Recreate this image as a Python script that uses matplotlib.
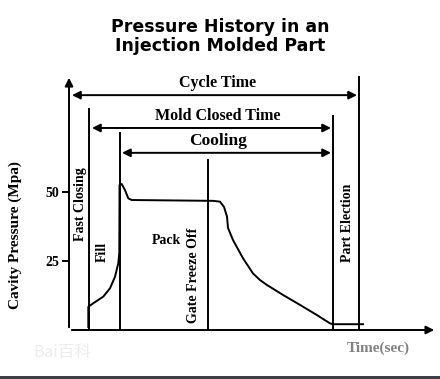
import matplotlib
matplotlib.use("Agg")
import matplotlib.pyplot as plt
from matplotlib.patches import Rectangle

# pressure trace (time in arbitrary sec units, pressure in MPa)
time = [1.93, 1.93, 2.43, 3.43, 4.1, 4.6, 4.93, 5.03, 5.05, 5.05, 5.27, 5.6, 5.93, 6.27,
        14.4, 15.1, 15.5, 15.8, 15.9, 16.4, 17.4, 18.4, 19.1, 19.8, 21.4, 23.1, 24.8,
        26.1, 26.4, 29.4]
pressure = [1.1, 8.4, 9.7, 12.1, 15.1, 19.3, 24.2, 27.9, 47.1, 52.5, 52.9, 50.7, 47.7, 47.1,
            46.8, 46.5, 44.6, 41.1, 37.0, 32.6, 26.0, 20.5, 18.1, 16.3, 12.7, 9.1, 5.4,
            2.4, 2.1, 2.1]

y_ticks = [25, 50]

# phase boundaries: (time, top of line)
phase_lines = [(2.0, 80.0), (5.1, 71.4), (13.9, 61.6), (26.4, 77.5), (29.0, 91.7)]

# dimension arrows: (label, start, end, height, fontsize)
spans = [("Cycle Time", 0.3, 28.8, 85.1, 11.5),
         ("Mold Closed Time", 2.3, 26.2, 73.2, 11.5),
         ("Cooling", 5.3, 26.2, 64.2, 12.5)]

# rotated phase labels: (label, time, pressure, rotation)
phase_labels = [("Fast Closing", 1.1, 45.7, 90), ("Fill", 3.3, 28.3, 90),
                ("Pack", 9.7, 32.6, 0), ("Gate Freeze Off", 12.4, 19.9, 90),
                ("Part Election", 27.8, 38.8, 90)]

serif = "Liberation Serif"
lw = 1.4

fig = plt.figure(figsize=(4.4, 3.79), dpi=100)
ax = fig.add_axes([69 / 440, 49 / 379, 368 / 440, 255 / 379])
ax.set_xlim(0, 36.8)
ax.set_ylim(0, 92.4)
for s in ax.spines.values():
    s.set_visible(False)

# axes drawn as arrows
ax.annotate("", xy=(0, 92.4), xytext=(0, 0),
            arrowprops=dict(arrowstyle="-|>", lw=lw, color="black", mutation_scale=12),
            annotation_clip=False)
ax.annotate("", xy=(36.8, 0), xytext=(0, 0),
            arrowprops=dict(arrowstyle="-|>", lw=lw, color="black", mutation_scale=12),
            annotation_clip=False)

ax.set_xticks([])
ax.set_yticks(y_ticks)
ax.set_yticklabels([str(v) for v in y_ticks], fontfamily=serif, fontweight="bold", fontsize=10)
ax.tick_params(axis="y", length=5, width=lw, pad=2)

for t, top in phase_lines:
    ax.plot([t, t], [0, top], color="black", lw=lw, clip_on=False)

for label, x0, x1, h, fs in spans:
    ax.annotate("", xy=(x1, h), xytext=(x0, h),
                arrowprops=dict(arrowstyle="<|-|>", lw=lw, color="black",
                                mutation_scale=12, shrinkA=0, shrinkB=0),
                annotation_clip=False)
    ax.text(14.9, h + 1.5, label, ha="center", va="bottom",
            fontfamily=serif, fontweight="bold", fontsize=fs)

for label, x, y, rot in phase_labels:
    ax.text(x, y, label, rotation=rot, ha="center", va="center",
            fontfamily=serif, fontweight="bold", fontsize=10)

ax.plot(time, pressure, color="black", lw=lw, clip_on=False)

ax.text(30.9, -6.5, "Time(sec)", ha="center", va="center", color="#808080",
        fontfamily=serif, fontweight="bold", fontsize=11, clip_on=False)

fig.text(15 / 440, 1 - 235 / 379, "Cavity Pressure (Mpa)", rotation=90,
         ha="center", va="center", fontfamily=serif, fontweight="bold", fontsize=11)

fig.text(220 / 440, 1 - 27 / 379, "Pressure History in an", ha="center", va="center",
         fontfamily="DejaVu Sans", fontweight="bold", fontsize=12.5)
fig.text(220 / 440, 1 - 46 / 379, "Injection Molded Part", ha="center", va="center",
         fontfamily="DejaVu Sans", fontweight="bold", fontsize=12.5)

# faint watermark
fig.text(62 / 440, 1 - 352 / 379, "Bai百科", ha="center", va="center", color="#ececec",
         fontsize=12, family=["Noto Sans CJK SC", "DejaVu Sans"])

# dark strip at the bottom edge of the image
fig.add_artist(Rectangle((0, 0), 1, 3 / 379, transform=fig.transFigure,
                         color="#3c4046", lw=0))

fig.savefig("out.png", dpi=100)
